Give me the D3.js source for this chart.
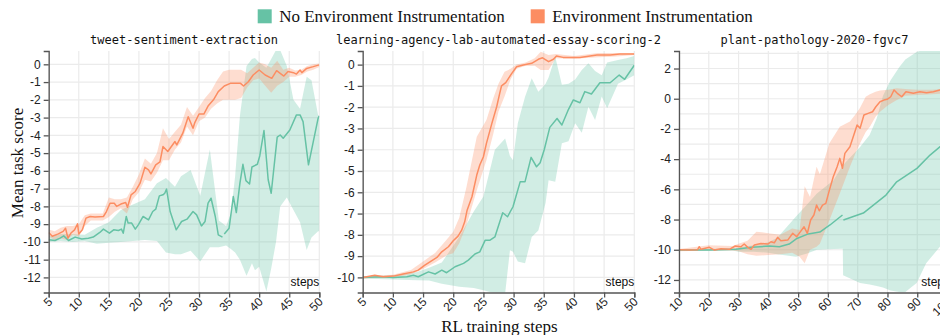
<!DOCTYPE html>
<html>
<head>
<meta charset="utf-8">
<script src="https://cdn.jsdelivr.net/npm/d3@7"></script>
<style>
  body { margin: 0; background: #fff; }
  svg { display: block; }
  .tick text { font-family: "Liberation Sans", Arial, sans-serif; font-size: 12px; fill: #222; }
  .domain, .tick line { stroke: #555; stroke-width: 1.3px; }
</style>
</head>
<body>
<svg id="chart" width="940" height="335"></svg>
<script>
// ---- data ----
const seriesNames = ["No Environment Instrumentation", "Environment Instrumentation"];
const seriesColors = ["#66c2a5", "#fc8d62"];
const panelTitles = ["tweet-sentiment-extraction", "learning-agency-lab-automated-essay-scoring-2", "plant-pathology-2020-fgvc7"];

const tweetXTicks = [5, 10, 15, 20, 25, 30, 35, 40, 45, 50];
const tweetYTicks = [0, -1, -2, -3, -4, -5, -6, -7, -8, -9, -10, -11, -12];
const essayXTicks = [5, 10, 15, 20, 25, 30, 35, 40, 45, 50];
const essayYTicks = [0, -1, -2, -3, -4, -5, -6, -7, -8, -9, -10];
const plantXTicks = [10, 20, 30, 40, 50, 60, 70, 80, 90, 100];
const plantYTicks = [2, 0, -2, -4, -6, -8, -10, -12];
const plantYGrid = [3, 2, 1, 0, -1, -2, -3, -4, -5, -6, -7, -8, -9, -10, -11, -12];

// [step, mean]  (null = missing step)
const tweetNoneMean = [[5,-9.88],[6.05,-9.92],[6.9,-9.79],[7.5,-9.66],[8.3,-9.92],[9.4,-9.73],[10.5,-9.84],[11.6,-9.79],[12.4,-9.73],[13.5,-9.47],[14.1,-9.28],[15.1,-9.51],[15.8,-9.32],[16.6,-9.36],[17.1,-9.28],[17.4,-9.51],[17.9,-8.57],[18.2,-8.94],[18.8,-8.94],[19.4,-9.28],[19.9,-9.04],[20.7,-8.57],[21.6,-8.76],[22.3,-8.29],[22.8,-8.16],[23.4,-7.41],[24.0,-7.35],[24.3,-7.26],[24.6,-7.03],[25.2,-8.29],[26.2,-9.32],[27.1,-8.85],[28.0,-8.72],[29.0,-8.29],[29.6,-8.48],[30.4,-9.1],[31.0,-8.85],[31.5,-7.82],[32.0,-7.54],[32.7,-8.57],[33.2,-9.6],[33.9,-9.73],[34.05,null],[34.2,-9.55],[35.0,-9.23],[35.7,-7.45],[36.2,-8.35],[36.8,-6.69],[37.3,-5.63],[37.8,-6.55],[38.4,-6.74],[38.8,-5.78],[39.7,-5.63],[40.1,-5.16],[40.8,-3.73],[41.5,-6.5],[42.0,-7.26],[43.0,-4.1],[43.5,-3.98],[44.0,-4.16],[45.1,-3.7],[46.2,-2.85],[46.8,-2.85],[47.3,-3.23],[48.2,-5.66],[49.0,-4.35],[49.8,-3.04],[50,-2.9]];
const tweetInstrMean = [[5,-9.47],[5.6,-9.68],[6.6,-9.55],[7.4,-9.41],[7.8,-9.23],[8.2,-9.79],[8.7,-9.5],[9.3,-9.32],[9.8,-8.98],[10.0,-9.55],[10.6,-9.32],[11.2,-8.66],[11.9,-8.57],[12.7,-8.6],[14.1,-8.57],[14.6,-8.29],[15.2,-7.82],[15.9,-7.82],[16.3,-8.0],[17.0,-7.87],[17.8,-7.78],[18.1,-8.05],[18.7,-7.35],[19.4,-7.16],[20.2,-6.69],[21.0,-5.8],[21.6,-5.94],[22.0,-6.17],[22.8,-5.66],[23.5,-5.5],[24.0,-4.63],[24.8,-4.91],[26.0,-4.35],[26.3,-4.54],[27.3,-3.88],[28.2,-2.95],[29.0,-3.6],[29.3,-3.28],[30.0,-2.8],[30.8,-2.8],[31.5,-2.35],[32.4,-2.0],[33.2,-1.54],[34.2,-1.22],[35.2,-1.07],[36.9,-1.07],[37.4,-1.22],[38.2,-0.98],[39.0,-0.6],[40.0,-0.32],[41.0,-0.6],[42.1,-0.79],[42.9,-0.36],[44.1,-0.66],[44.8,-0.41],[45.7,-0.47],[46.2,-0.55],[46.8,-0.32],[47.1,-0.47],[47.9,-0.23],[49.0,-0.13],[50,-0.03]];
const essayNoneMean = [[5,-10.0],[7.9,-9.97],[10.1,-10.0],[12.3,-9.97],[13.4,-9.9],[14.2,-9.97],[15.9,-9.74],[17.0,-9.84],[18.1,-9.66],[18.9,-9.78],[20.3,-9.5],[21.7,-9.34],[22.5,-9.19],[23.6,-8.9],[24.4,-8.8],[25.3,-8.25],[26.1,-8.25],[26.9,-8.1],[27.7,-7.4],[28.2,-6.96],[29.0,-7.15],[29.9,-6.68],[31.1,-5.5],[31.9,-5.5],[32.9,-4.36],[33.8,-4.8],[34.4,-4.61],[35.1,-3.98],[36.0,-2.95],[37.2,-2.53],[38.0,-2.84],[39.1,-2.1],[39.9,-1.66],[41.0,-1.79],[41.8,-1.27],[42.9,-1.38],[44.3,-0.85],[46.0,-0.85],[47.5,-0.49],[48.4,-0.69],[50,-0.03]];
const essayInstrMean = [[5,-10.0],[7.0,-9.9],[8.4,-9.97],[10.1,-9.94],[11.7,-9.84],[13.4,-9.74],[14.2,-9.66],[15.3,-9.42],[16.4,-9.22],[17.3,-9.06],[18.1,-8.8],[19.2,-8.56],[20.0,-8.28],[20.8,-8.06],[21.4,-7.78],[21.9,-7.39],[22.3,-6.84],[23.1,-6.21],[23.9,-5.19],[24.4,-4.72],[25.0,-4.33],[25.5,-3.7],[26.4,-2.76],[27.2,-1.98],[27.7,-1.35],[28.0,-1.0],[28.7,-0.85],[29.7,-0.41],[30.5,-0.1],[31.6,-0.02],[33.0,0.06],[34.1,0.25],[34.8,0.32],[35.8,0.14],[36.6,0.25],[37.1,0.4],[38.2,0.34],[41.0,0.34],[43.8,0.45],[46.0,0.45],[47.6,0.5],[50,0.5]];
const plantNoneMean = [[10,-10.02],[20.2,-10.02],[29.1,-9.97],[34.4,-9.84],[40.3,-9.75],[43.7,-9.8],[47.0,-9.62],[49.6,-9.25],[53.4,-8.95],[57.3,-8.83],[60.7,-8.36],[64.9,-7.7],[65.05,null],[65.2,-8.03],[71.9,-7.57],[79.5,-6.38],[83.1,-5.5],[89.9,-4.61],[94.3,-3.73],[97.6,-3.18],[101,-2.9]];
const plantInstrMean = [[10,-10.0],[13.5,-10.02],[16.2,-10.0],[16.8,-9.8],[17.4,-9.97],[20.2,-9.84],[21.9,-10.02],[24.1,-9.93],[26.9,-9.97],[28.9,-9.75],[30.8,-9.8],[31.9,-9.62],[33.1,-9.84],[34.2,-9.97],[35.3,-9.69],[37.5,-9.58],[39.8,-9.62],[40.9,-9.47],[42.0,-9.54],[43.1,-9.18],[44.2,-9.4],[46.5,-9.36],[48.2,-8.91],[49.5,-9.14],[50.6,-8.85],[52.0,-8.48],[53.1,-8.91],[54.2,-8.03],[55.3,-7.7],[56.2,-7.04],[57.1,-7.42],[58.2,-7.04],[59.3,-6.93],[60.5,-6.05],[61.8,-5.17],[63.1,-4.5],[64.0,-3.95],[64.9,-4.6],[65.7,-3.62],[67.4,-3.18],[68.7,-2.4],[69.8,-1.74],[70.8,-1.96],[72.1,-1.08],[73.5,-0.97],[75.0,-0.86],[76.1,-0.53],[77.5,-0.2],[78.8,-0.09],[79.9,-0.04],[81.1,0.13],[82.2,0.58],[83.3,0.36],[84.8,0.13],[86.2,0.46],[88.7,0.36],[90.9,0.46],[93.1,0.4],[95.4,0.46],[97.6,0.58],[101,0.5]];

// [step, low, high]
const tweetNoneBand = [[5,-10.0,-9.7],[7,-9.95,-9.55],[9,-10.0,-9.55],[11,-9.95,-9.6],[13,-10.1,-9.2],[15,-10.05,-8.9],[17,-10.0,-8.2],[19,-9.95,-7.9],[21,-9.9,-7.6],[23,-9.95,-6.7],[24.5,-10.6,-6.4],[26,-10.7,-6.9],[27,-10.7,-6.3],[28.6,-10.5,-5.95],[30.2,-11.1,-7.4],[31.8,-10.3,-4.8],[33.3,-10.3,-8.8],[34.5,-10.2,-9.1],[35.3,-10.4,-8.4],[36,-10.6,-6.3],[36.8,-11.0,-2.9],[37.9,-11.9,-0.1],[38.8,-11.2,0.3],[39.3,-11.6,0.35],[40.0,-11.4,0.1],[41.2,-12.8,-0.2],[42.0,-11.5,0.3],[42.8,-10.0,0.8],[43.5,-8.0,0.8],[44.6,-7.5,-0.1],[45.7,-8.2,-2.0],[46.8,-8.9,-2.5],[47.9,-10.45,-0.7],[48.7,-9.75,-0.9],[49.8,-9.4,-2.85],[50,-9.4,-3.0]];
const tweetInstrBand = [[5,-9.7,-9.3],[6,-9.9,-9.4],[7,-9.8,-9.2],[8,-9.9,-9.1],[9,-9.6,-9.1],[10,-9.7,-9.0],[11,-9.1,-8.5],[12,-8.8,-8.4],[13,-8.8,-8.4],[14,-8.8,-8.4],[15,-8.6,-7.5],[16,-8.3,-7.6],[17,-8.1,-7.6],[18,-8.4,-7.5],[19,-7.6,-6.9],[20,-7.2,-6.2],[21,-6.5,-5.3],[22,-6.6,-5.6],[23,-6.1,-5.0],[24,-5.4,-3.6],[25,-5.4,-4.2],[26,-4.8,-3.8],[27,-4.4,-3.4],[28,-3.5,-2.4],[29,-4.0,-2.9],[30,-3.2,-2.4],[31,-3.0,-1.9],[32,-2.5,-1.5],[33,-2.2,-0.9],[34,-2.0,-0.4],[35,-2.0,-0.3],[36,-2.0,-0.3],[37,-1.9,-0.3],[38,-1.3,-0.5],[39,-0.9,-0.2],[40,-0.8,0.1],[41,-1.2,0.0],[42,-1.6,-0.2],[43,-1.2,0.2],[44,-1.0,-0.3],[45,-0.7,-0.2],[46,-0.7,-0.35],[47,-0.6,-0.3],[48,-0.4,-0.1],[49,-0.3,0.0],[50,-0.15,0.05]];
const essayNoneBand = [[5,-10.05,-9.95],[10,-10.1,-9.9],[14,-10.13,-9.75],[16,-10.15,-9.55],[18.1,-10.3,-9.3],[21,-10.44,-8.1],[23.4,-10.5,-6.9],[25,-10.6,-6.2],[26.9,-10.75,-4.0],[28.6,-10.75,-3.47],[29.4,-8.72,-4.3],[29.9,-8.8,-4.49],[30.7,-9.25,-2.76],[31.9,-9.34,-1.51],[33.0,-8.1,-0.64],[34.1,-7.8,-1.27],[34.7,-7.15,-1.1],[35.3,-6.5,-0.9],[35.8,-5.43,-0.6],[36.9,-5.5,0.37],[38.0,-3.7,-0.95],[39.1,-3.6,-0.9],[40.2,-2.76,-0.7],[41.3,-3.2,-0.25],[42.4,-1.98,0.06],[43.5,-2.6,-0.3],[44.6,-1.5,-0.5],[45.5,-2.05,0.1],[47.3,-0.9,0.22],[48.7,-0.7,0.3],[50,-0.5,0.4]];
const essayInstrBand = [[5,-10.05,-9.95],[10,-10.0,-9.88],[13,-9.85,-9.65],[15,-9.6,-9.25],[17,-9.3,-8.85],[19,-8.95,-8.2],[20,-8.87,-7.86],[21,-8.4,-7.2],[22.2,-7.54,-5.74],[23.9,-5.9,-3.39],[25.5,-4.5,-2.6],[26.6,-3.3,-1.6],[27.5,-2.2,-0.9],[28.5,-1.5,-0.33],[29.5,-0.7,-0.2],[30.5,-0.2,0.0],[32,-0.05,0.1],[33.5,-0.05,0.3],[34.5,-0.25,0.6],[35.8,-0.25,0.45],[37,0.3,0.5],[40,0.28,0.4],[44,0.35,0.55],[47,0.38,0.55],[50,0.45,0.55]];
const plantNoneBand = [[10,-10.05,-9.95],[20,-10.05,-9.95],[28,-10.05,-9.9],[30,-10.13,-9.85],[35,-10.13,-9.7],[40,-10.2,-9.5],[43,-10.3,-9.2],[49.3,-10.46,-7.8],[53,-10.24,-7.0],[56.3,-10.0,-6.27],[61.9,-9.95,-5.4],[65,-9.93,-4.4],[65.1,-11.68,-4.39],[70.8,-12.2,-3.2],[74,-12.3,-2.4],[76.4,-12.4,-1.3],[78.5,-12.5,0.2],[81,-12.7,1.2],[84,-12.8,2.1],[86,-12.8,2.6],[89.8,-12.2,3.1],[93,-10.9,3.3],[97.6,-9.8,3.3],[101,-9.0,3.3]];
const plantInstrBand = [[10,-10.1,-9.95],[20,-10.05,-9.7],[28,-10.05,-9.75],[30,-10.1,-9.6],[33,-10.3,-9.4],[36,-10.4,-8.8],[40,-10.35,-8.9],[44,-10.3,-9.0],[48,-10.2,-8.6],[50.5,-10.46,-8.7],[52.2,-10.9,-5.8],[54,-10.0,-6.5],[56.2,-9.8,-4.5],[57.3,-9.6,-5.0],[60.5,-8.04,-2.95],[64,-6.27,-1.85],[67.4,-4.5,-1.5],[69.5,-3.5,-0.97],[70.8,-2.95,-0.6],[72.7,-2.2,0.13],[74.1,-1.85,0.3],[76,-1.2,0.46],[77.5,-0.86,0.55],[80.3,-0.42,0.6],[83,-0.1,0.7],[86,0.2,0.65],[90,0.25,0.6],[95,0.3,0.6],[101,0.35,0.65]];

// ---- layout ----
const plotTop = 51, plotBottom = 292.5;
const panels = [
    { title: panelTitles[0], left: 48.7, right: 319.3, xDomain: [5, 50], yDomain: [-12.85, 0.75],
      xTicks: tweetXTicks, yTicks: tweetYTicks, yGrid: tweetYTicks,
      means: [tweetNoneMean, tweetInstrMean], bands: [tweetNoneBand, tweetInstrBand] },
    { title: panelTitles[1], left: 362.7, right: 634.3, xDomain: [5, 50], yDomain: [-10.71, 0.64],
      xTicks: essayXTicks, yTicks: essayYTicks, yGrid: essayYTicks,
      means: [essayNoneMean, essayInstrMean], bands: [essayNoneBand, essayInstrBand] },
    { title: panelTitles[2], left: 679, right: 950, xDomain: [10, 101], yDomain: [-12.83, 3.16],
      xTicks: plantXTicks, yTicks: plantYTicks, yGrid: plantYGrid,
      means: [plantNoneMean, plantInstrMean], bands: [plantNoneBand, plantInstrBand] }
];

const svg = d3.select("#chart");

panels.forEach((p, i) => {
    const x = d3.scaleLinear().domain(p.xDomain).range([p.left, p.right]);
    const y = d3.scaleLinear().domain(p.yDomain).range([plotBottom, plotTop]);

    svg.append("clipPath").attr("id", "clip" + i)
        .append("rect")
        .attr("x", p.left).attr("y", plotTop)
        .attr("width", p.right - p.left).attr("height", plotBottom - plotTop);

    // grid
    const grid = svg.append("g").attr("stroke", "#ebebeb").attr("stroke-width", 1.2);
    grid.selectAll("line.gx").data(p.xTicks).enter().append("line")
        .attr("x1", d => x(d)).attr("x2", d => x(d))
        .attr("y1", plotTop).attr("y2", plotBottom);
    grid.selectAll("line.gy").data(p.yGrid).enter().append("line")
        .attr("x1", p.left).attr("x2", p.right)
        .attr("y1", d => y(d)).attr("y2", d => y(d));

    const plot = svg.append("g").attr("clip-path", `url(#clip${i})`);

    const area = d3.area()
        .x(d => x(d[0]))
        .y0(d => y(d[1]))
        .y1(d => y(d[2]));
    const line = d3.line()
        .defined(d => d[1] != null)
        .x(d => x(d[0]))
        .y(d => y(d[1]));

    p.bands.forEach((b, s) => {
        plot.append("path").datum(b)
            .attr("fill", seriesColors[s])
            .attr("fill-opacity", 0.3)
            .attr("d", area);
    });
    p.means.forEach((m, s) => {
        plot.append("path").datum(m)
            .attr("fill", "none")
            .attr("stroke", seriesColors[s])
            .attr("stroke-width", 1.5)
            .attr("stroke-linejoin", "round")
            .attr("d", line);
    });

    // axes
    svg.append("g")
        .attr("transform", `translate(${p.left},0)`)
        .call(d3.axisLeft(y).tickValues(p.yTicks).tickFormat(d => String(d)).tickSize(5).tickPadding(3));

    const xa = svg.append("g")
        .attr("transform", `translate(0,${plotBottom})`)
        .call(d3.axisBottom(x).tickValues(p.xTicks).tickFormat(d => String(d)).tickSize(5));
    xa.selectAll(".tick text")
        .attr("x", 0).attr("y", 0).attr("dy", 0)
        .attr("transform", "translate(4,10) rotate(-45)")
        .style("text-anchor", "end");

    // "steps" corner label
    svg.append("text")
        .attr("x", p.right).attr("y", 286)
        .attr("text-anchor", "end")
        .style("font-family", '"Liberation Sans", Arial, sans-serif')
        .style("font-size", "12px")
        .attr("fill", "#111")
        .text("steps");

    // panel title
    svg.append("text")
        .attr("x", (p.left + p.right) / 2).attr("y", 44)
        .attr("text-anchor", "middle")
        .style("font-family", '"DejaVu Sans Mono", monospace')
        .style("font-size", "12px")
        .attr("fill", "#111")
        .text(p.title);
});

// legend
const legendX = [257.7, 530.7];
const legend = svg.append("g");
seriesNames.forEach((name, s) => {
    legend.append("rect")
        .attr("x", legendX[s]).attr("y", 9.3)
        .attr("width", 14).attr("height", 14)
        .attr("fill", seriesColors[s]);
    legend.append("text")
        .attr("x", legendX[s] + 21.5).attr("y", 22)
        .style("font-family", '"Liberation Serif", "Times New Roman", serif')
        .style("font-size", "17px")
        .attr("fill", "#111")
        .text(name);
});

// axis titles
svg.append("text")
    .attr("transform", "translate(23,163) rotate(-90)")
    .attr("text-anchor", "middle")
    .style("font-family", '"Liberation Serif", "Times New Roman", serif')
    .style("font-size", "17px")
    .attr("fill", "#111")
    .text("Mean task score");

svg.append("text")
    .attr("x", 499.5).attr("y", 332)
    .attr("text-anchor", "middle")
    .style("font-family", '"Liberation Serif", "Times New Roman", serif')
    .style("font-size", "17px")
    .attr("fill", "#111")
    .text("RL training steps");
</script>
</body>
</html>
